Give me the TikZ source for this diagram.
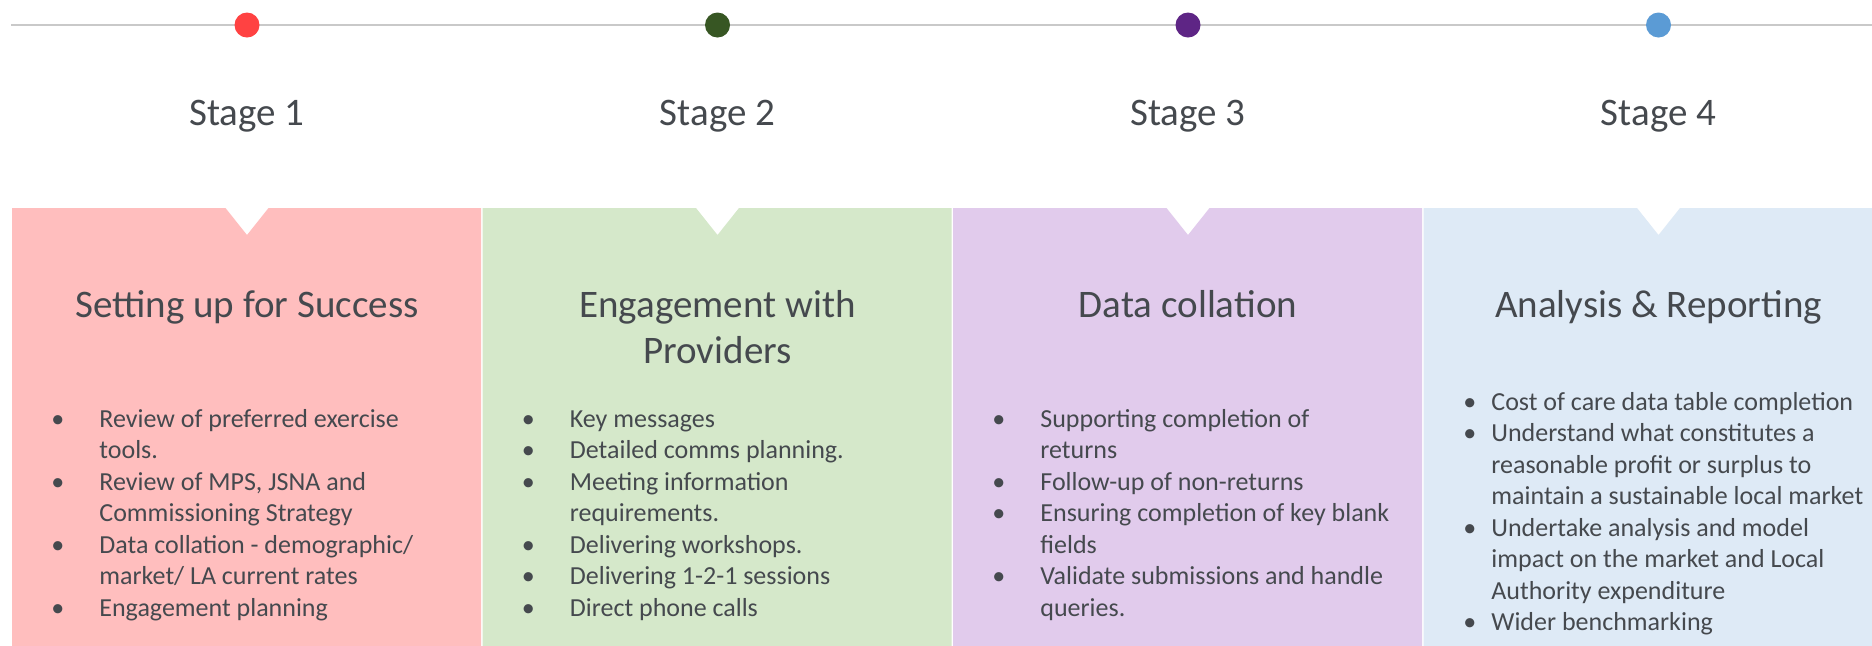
\documentclass[tikz,border=0pt]{standalone}
\usepackage{fontspec}
\setmainfont{Carlito}
\usepackage{tikz}

\definecolor{ink}{HTML}{45494E}
\definecolor{rail}{HTML}{C9C9C9}
\definecolor{dotA}{HTML}{FF4242}
\definecolor{dotB}{HTML}{375623}
\definecolor{dotC}{HTML}{5E2585}
\definecolor{dotD}{HTML}{5B9BD5}
\definecolor{boxA}{HTML}{FFBEBE}
\definecolor{boxB}{HTML}{D5E8CA}
\definecolor{boxC}{HTML}{E1CBEC}
\definecolor{boxD}{HTML}{DEEAF6}

% bullet list: first column holds the bullet, second the text
\newcommand\blist[2]{\begin{tabular}[t]{@{}p{#1}@{}l@{}}#2\end{tabular}}

\tikzset{
  stagedot/.style={circle, inner sep=0pt, minimum size=12.5pt},
  stagelabel/.style={font=\fontsize{19.5}{23}\selectfont, text=ink, inner sep=0pt, anchor=base},
  boxtitle/.style={font=\fontsize{19.5}{23}\selectfont, text=ink, inner sep=0pt, align=center, anchor=base},
  boxlist/.style={font=\fontsize{13}{15.75}\selectfont, text=ink, inner sep=0pt, anchor=base west},
}

\begin{document}
\begin{tikzpicture}[x=0.5pt, y=-0.5pt]
  \clip (0,0) rectangle (1872,645);
  \fill[white] (0,0) rectangle (1872,645);

  % timeline
  \coordinate (rail start) at (11,25);
  \coordinate (rail end) at (1872,25);
  \draw[rail, line width=1pt] (rail start) -- (rail end);

  % panels, dots and stage labels
  \foreach \i/\dotcol/\boxcol in {1/dotA/boxA, 2/dotB/boxB, 3/dotC/boxC, 4/dotD/boxD} {
    \pgfmathsetmacro\cx{247+470.5*(\i-1)}
    \fill[\boxcol] (\cx-235,208) -- (\cx-21.5,208) -- (\cx,235) -- (\cx+21.5,208)
      -- (\cx+234,208) -- (\cx+234,650) -- (\cx-235,650) -- cycle;
    \node[stagedot, fill=\dotcol] (dot\i) at (\cx,25) {};
    \node[stagelabel] (stage\i) at (\cx,125) {Stage \i};
  }

  % titles (base of a two-line title sits on its last line)
  \node[boxtitle] (title1) at (247,317) {Setting up for Success};
  \node[boxtitle] (title2) at (717.5,363) {Engagement with\\Providers};
  \node[boxtitle] (title3) at (1188,317) {Data collation};
  \node[boxtitle] (title4) at (1658.5,317) {Analysis \& Reporting};

  % task lists
  \node[boxlist] (list1) at (51,427) {\blist{24pt}{
    \textbullet & Review of preferred exercise\\
                & tools.\\
    \textbullet & Review of MPS, JSNA and\\
                & Commissioning Strategy\\
    \textbullet & Data collation - demographic/\\
                & market/ LA current rates\\
    \textbullet & Engagement planning}};
  \node[boxlist] (list2) at (521.5,427) {\blist{24pt}{
    \textbullet & Key messages\\
    \textbullet & Detailed comms planning.\\
    \textbullet & Meeting information\\
                & requirements.\\
    \textbullet & Delivering workshops.\\
    \textbullet & Delivering 1-2-1 sessions\\
    \textbullet & Direct phone calls}};
  \node[boxlist] (list3) at (992,427) {\blist{24pt}{
    \textbullet & Supporting completion of\\
                & returns\\
    \textbullet & Follow-up of non-returns\\
    \textbullet & Ensuring completion of key blank\\
                & fields\\
    \textbullet & Validate submissions and handle\\
                & queries.}};
  \node[boxlist] (list4) at (1463,410) {\blist{14pt}{
    \textbullet & Cost of care data table completion\\
    \textbullet & Understand what constitutes a\\
                & reasonable profit or surplus to\\
                & maintain a sustainable local market\\
    \textbullet & Undertake analysis and model\\
                & impact on the market and Local\\
                & Authority expenditure\\
    \textbullet & Wider benchmarking}};
\end{tikzpicture}
\end{document}
